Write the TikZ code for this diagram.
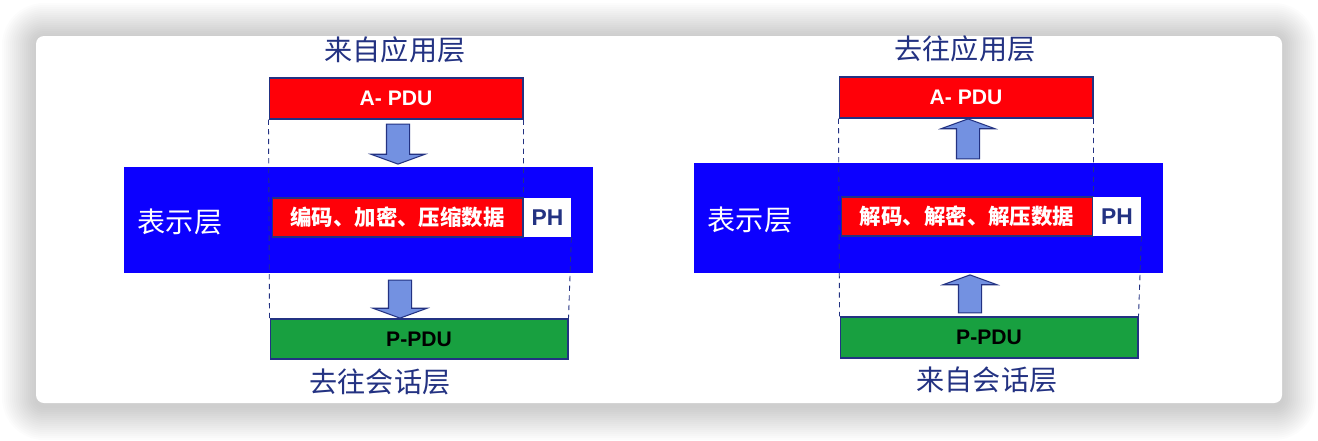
\documentclass[tikz,border=0pt]{standalone}
\usepackage{fontspec}
\setmainfont{Liberation Sans}
\newfontfamily\cjk{Noto Sans CJK SC}
\usetikzlibrary{shapes.arrows}
\definecolor{navy}{RGB}{35,50,130}
\definecolor{layerBlue}{RGB}{12,0,255}
\definecolor{pduRed}{RGB}{255,0,8}
\definecolor{pduGreen}{RGB}{24,160,64}
\definecolor{arrFill}{RGB}{115,145,225}
\tikzset{
  pdu/.style={draw=navy,line width=0.6pt,inner sep=0pt,
    font=\fontsize{12}{14}\selectfont\bfseries},
  ttl/.style={text=navy,inner sep=0pt,font=\cjk\fontsize{16}{18}\selectfont},
  blk/.style={single arrow,draw=navy,fill=arrFill,line width=0.6pt,
    inner xsep=0pt,inner ysep=0.22cm,single arrow head extend=0.31cm,
    single arrow tip angle=140,single arrow head indent=0pt},
  guide/.style={navy,dashed,line width=0.5pt,dash pattern=on 3pt off 2.5pt},
}
\begin{document}
\begin{tikzpicture}[x=0.02cm,y=-0.02cm,
  layer/.style={fill=layerBlue,inner sep=0pt,minimum width=9.38cm},
  work/.style={pdu,fill=pduRed,text=white,minimum height=0.78cm,
    font=\cjk\bfseries\fontsize{12.2}{14}\selectfont},
  hdr/.style={fill=white,text=navy,inner sep=0pt,minimum width=0.94cm,minimum height=0.78cm,
    font=\fontsize{13}{15}\selectfont\bfseries}]
  \useasboundingbox (0,0) rectangle (1318,440);
  % card with a soft shadow
  \foreach \i in {1,...,17}{
    \pgfmathsetmacro\d{2*\i}
    \pgfmathsetmacro\r{0.16+0.04*\i}
    \fill[black,opacity=0.012,rounded corners=\r cm]
      (36-\d,37-\d) rectangle (1282+\d,406+\d);
  }
  \fill[white,rounded corners=0.16cm] (36,36) rectangle (1282,403);

  % left : sending side
  \node[ttl] (srcL) at (395,50) {来自应用层};
  \node[pdu,fill=pduRed,text=white,minimum width=5.08cm,minimum height=0.82cm]
    (apduL) at (396,98.5) {A- PDU};
  \node[layer,minimum height=2.12cm] (presL) at (358.5,220) {};
  \node[ttl,text=white] (nameL) at (180,222) {表示层};
  \node[work,minimum width=5.02cm] (encL) at (397.5,217.5) {编码、加密、压缩数据};
  \node[hdr] (phL) at (547.5,217.5) {PH};
  \node[pdu,fill=pduGreen,text=black,minimum width=5.96cm,minimum height=0.8cm]
    (ppduL) at (419,339) {P-PDU};
  \node[ttl] (dstL) at (380,382) {去往会话层};
  \node[blk,rotate=-90,minimum height=0.8cm] (arL1) at (398,142) {};
  \node[blk,rotate=-90,minimum height=0.76cm] (arL2) at (400,297) {};
  \draw[guide] (apduL.south west) -- (ppduL.north west);
  \draw[guide] (apduL.south east) -- (encL.north east);
  \draw[guide] (phL.south east) -- (ppduL.north east);

  % right : receiving side
  \node[ttl] (dstR) at (965,49) {去往应用层};
  \node[pdu,fill=pduRed,text=white,minimum width=5.08cm,minimum height=0.82cm]
    (apduR) at (966,97.5) {A- PDU};
  \node[layer,minimum height=2.2cm] (presR) at (928.5,218) {};
  \node[ttl,text=white] (nameR) at (750,220) {表示层};
  \node[work,minimum width=5.04cm] (decR) at (967,216.5) {解码、解密、解压数据};
  \node[hdr,minimum width=0.96cm] (phR) at (1117,216.5) {PH};
  \node[pdu,fill=pduGreen,text=black,minimum width=5.96cm,minimum height=0.82cm]
    (ppduR) at (989,337.5) {P-PDU};
  \node[ttl] (srcR) at (987,380) {来自会话层};
  \node[blk,rotate=90,minimum height=0.8cm] (arR1) at (968,141) {};
  \node[blk,rotate=90,minimum height=0.76cm] (arR2) at (970,296) {};
  \draw[guide] (apduR.south west) -- (ppduR.north west);
  \draw[guide] (apduR.south east) -- (decR.north east);
  \draw[guide] (phR.south east) -- (ppduR.north east);
\end{tikzpicture}
\end{document}
